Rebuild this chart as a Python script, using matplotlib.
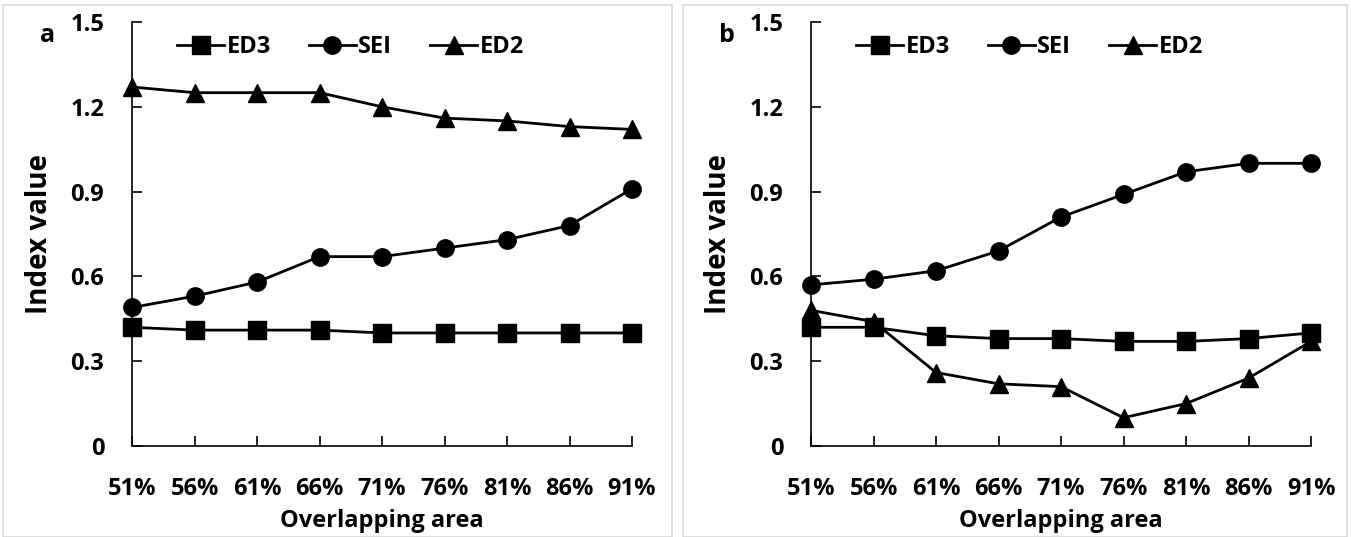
import matplotlib
matplotlib.use("Agg")
import matplotlib.pyplot as plt
from matplotlib.patches import Rectangle

plt.rcParams['font.family'] = ['Open Sans', 'DejaVu Sans']
plt.rcParams['font.weight'] = 'bold'

categories = ['51%', '56%', '61%', '66%', '71%', '76%', '81%', '86%', '91%']

a_ed3 = [0.42, 0.41, 0.41, 0.41, 0.40, 0.40, 0.40, 0.40, 0.40]
a_sei = [0.49, 0.53, 0.58, 0.67, 0.67, 0.70, 0.73, 0.78, 0.91]
a_ed2 = [1.27, 1.25, 1.25, 1.25, 1.20, 1.16, 1.15, 1.13, 1.12]

b_ed3 = [0.42, 0.42, 0.39, 0.38, 0.38, 0.37, 0.37, 0.38, 0.40]
b_sei = [0.57, 0.59, 0.62, 0.69, 0.81, 0.89, 0.97, 1.00, 1.00]
b_ed2 = [0.48, 0.44, 0.26, 0.22, 0.21, 0.10, 0.15, 0.24, 0.37]

yticks = [0, 0.3, 0.6, 0.9, 1.2, 1.5]
ytick_labels = ['0', '0.3', '0.6', '0.9', '1.2', '1.5']

W, H = 1351, 537
fig = plt.figure(figsize=(W / 100, H / 100), dpi=100)

# light grey frames around each panel
for x0, x1 in [(3, 672), (683, 1347)]:
    fig.patches.append(Rectangle((x0 / W, 0.0), (x1 - x0) / W, (H - 5) / H,
                                 transform=fig.transFigure, fill=False,
                                 edgecolor='#d9d9d9', linewidth=1.2))


def draw_panel(left, letter, ed3, sei, ed2):
    ax = fig.add_axes([left / W, 1 - 446 / H, 500 / W, 424 / H])
    x = list(range(len(categories)))
    ax.plot(x, ed3, '-', color='black', lw=2.0, marker='s', ms=12.5,
            label='ED3', clip_on=False)
    ax.plot(x, sei, '-', color='black', lw=2.0, marker='o', ms=12.5,
            label='SEI', clip_on=False)
    ax.plot(x, ed2, '-', color='black', lw=2.0, marker='^', ms=12.5,
            label='ED2', clip_on=False)
    ax.set_xlim(0, len(categories) - 1)
    ax.set_ylim(0, 1.5)
    ax.set_yticks(yticks)
    ax.set_yticklabels(ytick_labels)
    ax.set_xticks(x)
    ax.set_xticklabels(categories)
    for s in ['top', 'right']:
        ax.spines[s].set_visible(False)
    for s in ['left', 'bottom']:
        ax.spines[s].set_linewidth(1.2)
    ax.tick_params(axis='both', direction='in', length=7, width=1.2,
                   labelsize=17)
    ax.tick_params(axis='x', pad=22)
    ax.tick_params(axis='y', pad=20)
    for lab in ax.get_xticklabels() + ax.get_yticklabels():
        lab.set_fontweight('bold')
    ax.set_xlabel('Overlapping area', fontsize=17, fontweight='bold', labelpad=6)
    ax.set_ylabel('Index value', fontsize=20, fontweight='bold', labelpad=12)
    ax.legend(loc='upper center', bbox_to_anchor=(0.437, 1.02), ncol=3,
              frameon=False, handlelength=2.0,
              handletextpad=0.1, columnspacing=1.6,
              prop={'weight': 'bold', 'size': 17})
    fig.text((left - 92) / W, 1 - 36 / H, letter, fontsize=18,
             fontweight='bold', ha='left', va='center')
    return ax


draw_panel(132, 'a', a_ed3, a_sei, a_ed2)
draw_panel(811, 'b', b_ed3, b_sei, b_ed2)

fig.savefig('out.png', dpi=100)
